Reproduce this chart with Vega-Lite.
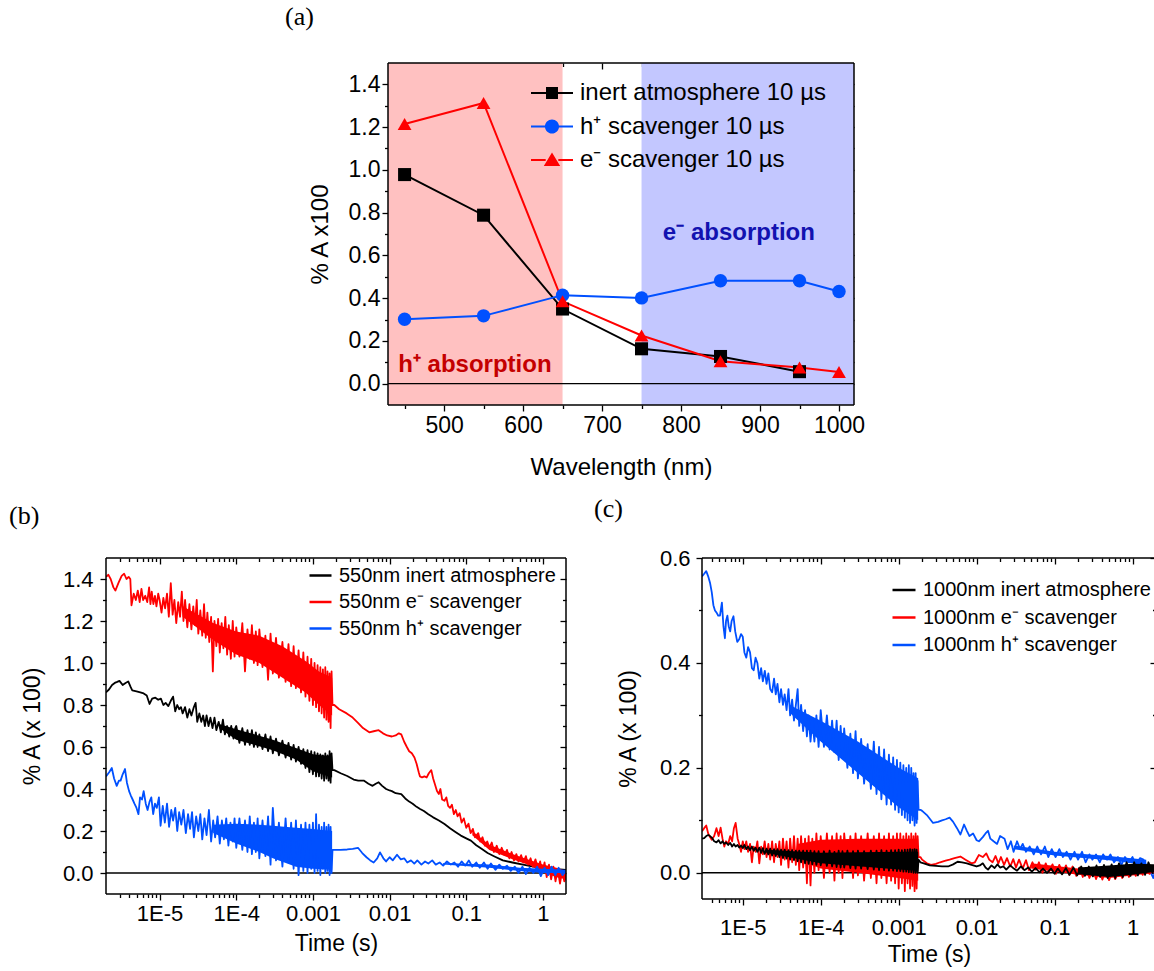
{
"$schema": "https://vega.github.io/schema/vega-lite/v6.json",
"padding": {"left": 9, "top": 4, "right": 5, "bottom": 5},
"config": {
  "view": {"stroke": null},
  "font": "Liberation Sans",
  "axis": {"domain": false, "tickColor": "black", "tickWidth": 1.3, "labelColor": "black", "titleColor": "black", "grid": false, "labelFont": "Liberation Sans", "titleFont": "Liberation Sans", "titleFontWeight": "normal", "labelFlush": false, "labelOverlap": false, "zindex": 1},
  "legend": {"labelFont": "Liberation Sans", "labelColor": "black", "padding": 0},
  "title": {"font": "Liberation Serif", "fontWeight": "normal", "color": "black", "fontSize": 26, "anchor": "start", "frame": "group", "baseline": "alphabetic"}
},
"datasets": {
  "a": [
    {"s":"inert atmosphere 10 µs","wl":450,"v":0.978},{"s":"inert atmosphere 10 µs","wl":550,"v":0.788},{"s":"inert atmosphere 10 µs","wl":650,"v":0.349},{"s":"inert atmosphere 10 µs","wl":750,"v":0.163},{"s":"inert atmosphere 10 µs","wl":850,"v":0.127},{"s":"inert atmosphere 10 µs","wl":950,"v":0.056},
    {"s":"h⁺ scavenger 10 µs","wl":450,"v":0.301},{"s":"h⁺ scavenger 10 µs","wl":550,"v":0.317},{"s":"h⁺ scavenger 10 µs","wl":650,"v":0.414},{"s":"h⁺ scavenger 10 µs","wl":750,"v":0.401},{"s":"h⁺ scavenger 10 µs","wl":850,"v":0.481},{"s":"h⁺ scavenger 10 µs","wl":950,"v":0.481},{"s":"h⁺ scavenger 10 µs","wl":1000,"v":0.431},
    {"s":"e⁻ scavenger 10 µs","wl":450,"v":1.215},{"s":"e⁻ scavenger 10 µs","wl":550,"v":1.313},{"s":"e⁻ scavenger 10 µs","wl":650,"v":0.385},{"s":"e⁻ scavenger 10 µs","wl":750,"v":0.225},{"s":"e⁻ scavenger 10 µs","wl":850,"v":0.105},{"s":"e⁻ scavenger 10 µs","wl":950,"v":0.075},{"s":"e⁻ scavenger 10 µs","wl":1000,"v":0.054}
  ],
  "bandH": [{"x1":429,"x2":650}],
  "bandE": [{"x1":750,"x2":1019}],
  "txtH": [{"x":442,"y":0.055,"label":"h⁺ absorption"}],
  "txtE": [{"x":777,"y":0.671,"label":"e⁻ absorption"}],
  "bKb": [{"t":6e-5,"hi":0.71,"lo":0.69},{"t":1e-4,"hi":0.685,"lo":0.635},{"t":3e-4,"hi":0.635,"lo":0.585},{"t":6e-4,"hi":0.595,"lo":0.54},{"t":1e-3,"hi":0.565,"lo":0.485},{"t":1.78e-3,"hi":0.555,"lo":0.455}],
  "bRb": [{"t":2e-5,"hi":1.27,"lo":1.22},{"t":5e-5,"hi":1.19,"lo":1.11},{"t":1e-4,"hi":1.15,"lo":1.04},{"t":2e-4,"hi":1.13,"lo":1.0},{"t":4e-4,"hi":1.08,"lo":0.93},{"t":8e-4,"hi":1.01,"lo":0.86},{"t":1.2e-3,"hi":0.96,"lo":0.80},{"t":1.78e-3,"hi":0.93,"lo":0.75}],
  "bRt": [{"t":0.12,"hi":0.2,"lo":0.18},{"t":0.2,"hi":0.135,"lo":0.11},{"t":0.4,"hi":0.09,"lo":0.065},{"t":0.7,"hi":0.06,"lo":0.035},{"t":1.0,"hi":0.04,"lo":0.005},{"t":1.5,"hi":0.025,"lo":-0.02},{"t":2.0,"hi":0.01,"lo":-0.03}],
  "bBb": [{"t":5e-5,"hi":0.23,"lo":0.19},{"t":1e-4,"hi":0.235,"lo":0.14},{"t":2e-4,"hi":0.23,"lo":0.10},{"t":3e-4,"hi":0.225,"lo":0.07},{"t":6e-4,"hi":0.215,"lo":0.03},{"t":1e-3,"hi":0.21,"lo":0.02},{"t":1.78e-3,"hi":0.20,"lo":0.015}],
  "bBt": [{"t":0.05,"hi":0.048,"lo":0.04},{"t":0.2,"hi":0.04,"lo":0.025},{"t":0.5,"hi":0.025,"lo":0.01},{"t":1.0,"hi":0.02,"lo":0.0},{"t":2.0,"hi":0.015,"lo":0.0}],
  "cBb": [{"t":4e-5,"hi":0.32,"lo":0.305},{"t":1e-4,"hi":0.29,"lo":0.25},{"t":3e-4,"hi":0.25,"lo":0.19},{"t":1e-3,"hi":0.20,"lo":0.125},{"t":1.78e-3,"hi":0.18,"lo":0.10}],
  "cBt": [{"t":0.03,"hi":0.052,"lo":0.045},{"t":0.1,"hi":0.04,"lo":0.033},{"t":0.5,"hi":0.032,"lo":0.024},{"t":1.5,"hi":0.025,"lo":0.015}],
  "cRb": [{"t":5e-5,"hi":0.055,"lo":0.025},{"t":1e-4,"hi":0.063,"lo":0.008},{"t":3e-4,"hi":0.065,"lo":0.0},{"t":1e-3,"hi":0.065,"lo":-0.01},{"t":1.78e-3,"hi":0.065,"lo":-0.015}],
  "cRt": [{"t":0.05,"hi":0.018,"lo":0.008},{"t":0.2,"hi":0.008,"lo":-0.004},{"t":0.5,"hi":0.0,"lo":-0.01},{"t":1.0,"hi":0.005,"lo":-0.005},{"t":2.0,"hi":0.01,"lo":0.0}],
  "cKb": [{"t":2e-5,"hi":0.044,"lo":0.038},{"t":1e-4,"hi":0.038,"lo":0.018},{"t":1e-3,"hi":0.04,"lo":0.006},{"t":1.78e-3,"hi":0.04,"lo":0.004}],
  "cKt": [{"t":0.2,"hi":0.01,"lo":-0.003},{"t":0.5,"hi":0.014,"lo":-0.008},{"t":1.0,"hi":0.017,"lo":-0.004},{"t":2.0,"hi":0.016,"lo":0.002}],
  "bK": [
    {"t":2.0e-6,"v":0.86},{"t":2.2e-6,"v":0.875},{"t":2.4e-6,"v":0.895},{"t":2.6e-6,"v":0.905},{"t":2.8e-6,"v":0.91},{"t":3.0e-6,"v":0.915},{"t":3.3e-6,"v":0.895},{"t":3.6e-6,"v":0.905},{"t":3.9e-6,"v":0.912},{"t":4.2e-6,"v":0.885},{"t":4.4e-6,"v":0.87},{"t":5.0e-6,"v":0.865},{"t":5.6e-6,"v":0.86},{"t":6.2e-6,"v":0.855},{"t":6.8e-6,"v":0.845},{"t":7.4e-6,"v":0.805},{"t":8.0e-6,"v":0.83},{"t":8.8e-6,"v":0.835},{"t":9.6e-6,"v":0.825},
    {"t":1.04e-5,"v":0.83},{"t":1.12e-5,"v":0.80},{"t":1.2e-5,"v":0.81},{"t":1.3e-5,"v":0.795},{"t":1.4e-5,"v":0.82},{"t":1.5e-5,"v":0.84},{"t":1.6e-5,"v":0.77},{"t":1.7e-5,"v":0.80},{"t":1.8e-5,"v":0.78},{"t":1.9e-5,"v":0.79},{"t":2.0e-5,"v":0.76},{"t":2.15e-5,"v":0.79},{"t":2.3e-5,"v":0.74},{"t":2.45e-5,"v":0.78},{"t":2.6e-5,"v":0.75},{"t":2.8e-5,"v":0.79},{"t":2.95e-5,"v":0.81},{"t":3.1e-5,"v":0.72},{"t":3.3e-5,"v":0.76},{"t":3.5e-5,"v":0.72},{"t":3.7e-5,"v":0.75},{"t":3.9e-5,"v":0.70},{"t":4.1e-5,"v":0.75},{"t":4.35e-5,"v":0.70},{"t":4.6e-5,"v":0.74},{"t":4.9e-5,"v":0.69},{"t":5.2e-5,"v":0.74},{"t":5.5e-5,"v":0.68},{"t":5.9e-5,"v":0.72},{"t":6.3e-5,"v":0.67},{"t":6.7e-5,"v":0.73},{"t":7.1e-5,"v":0.66},{"t":7.6e-5,"v":0.70},{"t":8.1e-5,"v":0.65},{"t":8.6e-5,"v":0.70},{"t":9.2e-5,"v":0.64},{"t":9.7e-5,"v":0.69},
    {"t":1.0e-4,"v":0.70},{"t":1.1e-4,"v":0.62},{"t":1.2e-4,"v":0.69},{"t":1.3e-4,"v":0.61},{"t":1.4e-4,"v":0.68},{"t":1.5e-4,"v":0.61},{"t":1.6e-4,"v":0.68},{"t":1.7e-4,"v":0.60},{"t":1.8e-4,"v":0.67},{"t":1.9e-4,"v":0.60},{"t":2.0e-4,"v":0.66},{"t":2.2e-4,"v":0.59},{"t":2.4e-4,"v":0.66},{"t":2.6e-4,"v":0.58},{"t":2.8e-4,"v":0.65},{"t":3.0e-4,"v":0.57},{"t":3.3e-4,"v":0.64},{"t":3.6e-4,"v":0.56},{"t":4.0e-4,"v":0.63},{"t":4.4e-4,"v":0.55},{"t":4.8e-4,"v":0.62},{"t":5.2e-4,"v":0.54},{"t":5.6e-4,"v":0.61},{"t":6.0e-4,"v":0.53},{"t":6.5e-4,"v":0.60},{"t":7.0e-4,"v":0.52},{"t":7.5e-4,"v":0.59},{"t":8.0e-4,"v":0.50},{"t":8.5e-4,"v":0.585},{"t":9.0e-4,"v":0.48},{"t":9.5e-4,"v":0.58},{"t":1.0e-3,"v":0.47},{"t":1.05e-3,"v":0.575},{"t":1.1e-3,"v":0.46},{"t":1.15e-3,"v":0.57},{"t":1.2e-3,"v":0.46},{"t":1.25e-3,"v":0.565},{"t":1.3e-3,"v":0.45},{"t":1.35e-3,"v":0.56},{"t":1.4e-3,"v":0.44},{"t":1.45e-3,"v":0.57},{"t":1.5e-3,"v":0.45},{"t":1.55e-3,"v":0.56},{"t":1.6e-3,"v":0.44},{"t":1.65e-3,"v":0.58},{"t":1.7e-3,"v":0.43},{"t":1.75e-3,"v":0.57},{"t":1.8e-3,"v":0.49},
    {"t":1.9e-3,"v":0.49},{"t":2.3e-3,"v":0.475},{"t":2.8e-3,"v":0.462},{"t":3.4e-3,"v":0.445},{"t":3.9e-3,"v":0.44},{"t":4.6e-3,"v":0.44},{"t":5.3e-3,"v":0.425},{"t":6.0e-3,"v":0.415},{"t":6.6e-3,"v":0.425},{"t":7.2e-3,"v":0.432},{"t":8.0e-3,"v":0.415},{"t":9.0e-3,"v":0.40},{"t":1.0e-2,"v":0.393},{"t":1.07e-2,"v":0.39},{"t":1.2e-2,"v":0.38},{"t":1.42e-2,"v":0.376},{"t":1.6e-2,"v":0.355},{"t":1.8e-2,"v":0.34},{"t":2.0e-2,"v":0.33},{"t":2.25e-2,"v":0.315},{"t":2.5e-2,"v":0.305},{"t":2.8e-2,"v":0.295},{"t":3.2e-2,"v":0.28},{"t":3.7e-2,"v":0.265},{"t":4.4e-2,"v":0.25},{"t":5.2e-2,"v":0.233},{"t":6.2e-2,"v":0.212},{"t":7.3e-2,"v":0.194},{"t":8.5e-2,"v":0.178},{"t":0.1,"v":0.165},{"t":0.115,"v":0.154},{"t":0.135,"v":0.132},{"t":0.16,"v":0.114},{"t":0.19,"v":0.095},{"t":0.23,"v":0.08},{"t":0.3,"v":0.06},{"t":0.4,"v":0.05},{"t":0.55,"v":0.04},{"t":0.75,"v":0.03},{"t":1.0,"v":0.025},{"t":1.4,"v":0.02},{"t":2.0,"v":0.015}
  ],
  "bR": [
    {"t":2.0e-6,"v":1.41},{"t":2.15e-6,"v":1.42},{"t":2.3e-6,"v":1.40},{"t":2.5e-6,"v":1.36},{"t":2.65e-6,"v":1.345},{"t":2.9e-6,"v":1.38},{"t":3.2e-6,"v":1.415},{"t":3.45e-6,"v":1.425},{"t":3.7e-6,"v":1.40},{"t":3.95e-6,"v":1.41},{"t":4.15e-6,"v":1.40},{"t":4.3e-6,"v":1.275},{"t":4.6e-6,"v":1.33},{"t":4.9e-6,"v":1.30},{"t":5.2e-6,"v":1.345},{"t":5.5e-6,"v":1.29},{"t":5.8e-6,"v":1.353},{"t":6.1e-6,"v":1.30},{"t":6.5e-6,"v":1.32},{"t":6.9e-6,"v":1.29},{"t":7.3e-6,"v":1.36},{"t":7.6e-6,"v":1.28},{"t":7.9e-6,"v":1.34},{"t":8.3e-6,"v":1.28},{"t":8.7e-6,"v":1.32},{"t":9.1e-6,"v":1.27},{"t":9.6e-6,"v":1.33},
    {"t":1.0e-5,"v":1.30},{"t":1.06e-5,"v":1.24},{"t":1.12e-5,"v":1.31},{"t":1.18e-5,"v":1.26},{"t":1.25e-5,"v":1.33},{"t":1.32e-5,"v":1.22},{"t":1.4e-5,"v":1.38},{"t":1.48e-5,"v":1.23},{"t":1.56e-5,"v":1.30},{"t":1.65e-5,"v":1.19},{"t":1.75e-5,"v":1.29},{"t":1.85e-5,"v":1.22},{"t":1.95e-5,"v":1.34},{"t":2.05e-5,"v":1.20},{"t":2.15e-5,"v":1.30},{"t":2.3e-5,"v":1.17},{"t":2.45e-5,"v":1.28},{"t":2.6e-5,"v":1.16},{"t":2.75e-5,"v":1.27},{"t":2.9e-5,"v":1.18},{"t":3.05e-5,"v":1.30},{"t":3.2e-5,"v":1.14},{"t":3.4e-5,"v":1.25},{"t":3.6e-5,"v":1.13},{"t":3.8e-5,"v":1.28},{"t":4.0e-5,"v":1.12},{"t":4.2e-5,"v":1.24},{"t":4.45e-5,"v":1.10},{"t":4.7e-5,"v":1.22},{"t":4.95e-5,"v":0.96},{"t":5.2e-5,"v":1.20},{"t":5.5e-5,"v":1.08},{"t":5.8e-5,"v":1.21},{"t":6.1e-5,"v":1.05},{"t":6.45e-5,"v":1.19},{"t":6.8e-5,"v":1.07},{"t":7.2e-5,"v":1.22},{"t":7.6e-5,"v":1.04},{"t":8.0e-5,"v":1.18},{"t":8.5e-5,"v":1.02},{"t":9.0e-5,"v":1.20},{"t":9.5e-5,"v":1.03},
    {"t":1.0e-4,"v":1.17},{"t":1.1e-4,"v":1.03},{"t":1.2e-4,"v":1.19},{"t":1.3e-4,"v":0.96},{"t":1.4e-4,"v":1.16},{"t":1.5e-4,"v":1.02},{"t":1.6e-4,"v":1.18},{"t":1.7e-4,"v":1.00},{"t":1.8e-4,"v":1.15},{"t":1.9e-4,"v":0.99},{"t":2.0e-4,"v":1.16},{"t":2.2e-4,"v":0.98},{"t":2.4e-4,"v":1.13},{"t":2.6e-4,"v":0.92},{"t":2.8e-4,"v":1.14},{"t":3.0e-4,"v":0.95},{"t":3.3e-4,"v":1.12},{"t":3.6e-4,"v":0.93},{"t":4.0e-4,"v":1.10},{"t":4.4e-4,"v":0.91},{"t":4.8e-4,"v":1.09},{"t":5.2e-4,"v":0.89},{"t":5.6e-4,"v":1.08},{"t":6.0e-4,"v":0.88},{"t":6.5e-4,"v":1.06},{"t":7.0e-4,"v":0.86},{"t":7.5e-4,"v":1.05},{"t":8.0e-4,"v":0.84},{"t":8.5e-4,"v":1.03},{"t":9.0e-4,"v":0.82},{"t":9.5e-4,"v":1.02},{"t":1.0e-3,"v":0.80},{"t":1.05e-3,"v":1.00},{"t":1.1e-3,"v":0.79},{"t":1.15e-3,"v":0.99},{"t":1.2e-3,"v":0.77},{"t":1.25e-3,"v":0.98},{"t":1.3e-3,"v":0.76},{"t":1.35e-3,"v":0.97},{"t":1.4e-3,"v":0.74},{"t":1.45e-3,"v":0.98},{"t":1.5e-3,"v":0.73},{"t":1.55e-3,"v":0.96},{"t":1.6e-3,"v":0.72},{"t":1.65e-3,"v":0.95},{"t":1.7e-3,"v":0.69},{"t":1.75e-3,"v":0.96},{"t":1.8e-3,"v":0.80},
    {"t":1.9e-3,"v":0.80},{"t":2.2e-3,"v":0.78},{"t":2.76e-3,"v":0.76},{"t":3.3e-3,"v":0.74},{"t":3.87e-3,"v":0.715},{"t":4.5e-3,"v":0.69},{"t":5.43e-3,"v":0.67},{"t":6.2e-3,"v":0.675},{"t":7.2e-3,"v":0.68},{"t":8.2e-3,"v":0.665},{"t":9.3e-3,"v":0.655},{"t":1.07e-2,"v":0.65},{"t":1.2e-2,"v":0.655},{"t":1.32e-2,"v":0.665},{"t":1.42e-2,"v":0.66},{"t":1.55e-2,"v":0.625},{"t":1.68e-2,"v":0.60},{"t":1.8e-2,"v":0.58},{"t":1.95e-2,"v":0.57},{"t":2.11e-2,"v":0.55},{"t":2.25e-2,"v":0.52},{"t":2.4e-2,"v":0.48},{"t":2.49e-2,"v":0.46},{"t":2.65e-2,"v":0.455},{"t":2.85e-2,"v":0.46},{"t":3.05e-2,"v":0.455},{"t":3.25e-2,"v":0.475},{"t":3.5e-2,"v":0.49},{"t":3.7e-2,"v":0.45},{"t":3.92e-2,"v":0.42},{"t":4.15e-2,"v":0.39},{"t":4.39e-2,"v":0.376},{"t":4.6e-2,"v":0.40},{"t":4.85e-2,"v":0.35},{"t":5.2e-2,"v":0.344},{"t":5.5e-2,"v":0.36},{"t":5.8e-2,"v":0.32},{"t":6.15e-2,"v":0.31},{"t":6.5e-2,"v":0.325},{"t":6.9e-2,"v":0.28},{"t":7.3e-2,"v":0.30},{"t":7.7e-2,"v":0.27},{"t":8.2e-2,"v":0.285},{"t":8.7e-2,"v":0.24},{"t":9.3e-2,"v":0.26},{"t":0.1,"v":0.215},{"t":0.107,"v":0.235},{"t":0.114,"v":0.19},{"t":0.122,"v":0.21},{"t":0.13,"v":0.17},{"t":0.1435,"v":0.19},{"t":0.152,"v":0.15},{"t":0.163,"v":0.17},{"t":0.175,"v":0.13},{"t":0.188,"v":0.15},{"t":0.2,"v":0.12},{"t":0.215,"v":0.145},{"t":0.23,"v":0.10},{"t":0.25,"v":0.13},{"t":0.27,"v":0.09},{"t":0.29,"v":0.12},{"t":0.316,"v":0.085},{"t":0.34,"v":0.11},{"t":0.365,"v":0.07},{"t":0.39,"v":0.10},{"t":0.42,"v":0.06},{"t":0.45,"v":0.09},{"t":0.48,"v":0.055},{"t":0.52,"v":0.085},{"t":0.556,"v":0.05},{"t":0.6,"v":0.08},{"t":0.64,"v":0.04},{"t":0.69,"v":0.07},{"t":0.74,"v":0.03},{"t":0.8,"v":0.065},{"t":0.86,"v":0.02},{"t":0.92,"v":0.055},{"t":0.98,"v":0.0},{"t":1.05,"v":0.05},{"t":1.12,"v":-0.02},{"t":1.2,"v":0.04},{"t":1.28,"v":-0.03},{"t":1.37,"v":0.03},{"t":1.46,"v":-0.04},{"t":1.56,"v":0.02},{"t":1.67,"v":-0.05},{"t":1.78,"v":0.01},{"t":1.9,"v":-0.04},{"t":2.0,"v":-0.02}
  ],
  "bB": [
    {"t":2.0e-6,"v":0.46},{"t":2.2e-6,"v":0.48},{"t":2.38e-6,"v":0.50},{"t":2.55e-6,"v":0.45},{"t":2.76e-6,"v":0.415},{"t":2.95e-6,"v":0.44},{"t":3.1e-6,"v":0.44},{"t":3.3e-6,"v":0.47},{"t":3.54e-6,"v":0.495},{"t":3.75e-6,"v":0.43},{"t":4.0e-6,"v":0.39},{"t":4.2e-6,"v":0.37},{"t":4.45e-6,"v":0.35},{"t":4.7e-6,"v":0.33},{"t":5.0e-6,"v":0.31},{"t":5.3e-6,"v":0.28},{"t":5.56e-6,"v":0.36},{"t":5.9e-6,"v":0.35},{"t":6.2e-6,"v":0.39},{"t":6.6e-6,"v":0.33},{"t":6.97e-6,"v":0.30},{"t":7.4e-6,"v":0.34},{"t":7.8e-6,"v":0.36},{"t":8.25e-6,"v":0.28},{"t":8.7e-6,"v":0.33},{"t":9.2e-6,"v":0.31},{"t":9.8e-6,"v":0.36},
    {"t":1.03e-5,"v":0.225},{"t":1.1e-5,"v":0.32},{"t":1.17e-5,"v":0.24},{"t":1.25e-5,"v":0.33},{"t":1.33e-5,"v":0.22},{"t":1.42e-5,"v":0.30},{"t":1.5e-5,"v":0.25},{"t":1.6e-5,"v":0.31},{"t":1.7e-5,"v":0.20},{"t":1.8e-5,"v":0.29},{"t":1.92e-5,"v":0.23},{"t":2.05e-5,"v":0.30},{"t":2.2e-5,"v":0.19},{"t":2.35e-5,"v":0.28},{"t":2.5e-5,"v":0.21},{"t":2.65e-5,"v":0.29},{"t":2.8e-5,"v":0.17},{"t":3.0e-5,"v":0.27},{"t":3.2e-5,"v":0.20},{"t":3.4e-5,"v":0.28},{"t":3.6e-5,"v":0.16},{"t":3.85e-5,"v":0.26},{"t":4.1e-5,"v":0.18},{"t":4.4e-5,"v":0.30},{"t":4.7e-5,"v":0.15},{"t":5.0e-5,"v":0.25},{"t":5.3e-5,"v":0.17},{"t":5.7e-5,"v":0.27},{"t":6.1e-5,"v":0.14},{"t":6.5e-5,"v":0.25},{"t":6.9e-5,"v":0.16},{"t":7.4e-5,"v":0.26},{"t":7.9e-5,"v":0.13},{"t":8.4e-5,"v":0.24},{"t":9.0e-5,"v":0.15},{"t":9.5e-5,"v":0.26},
    {"t":1.0e-4,"v":0.12},{"t":1.1e-4,"v":0.26},{"t":1.2e-4,"v":0.11},{"t":1.3e-4,"v":0.25},{"t":1.4e-4,"v":0.10},{"t":1.5e-4,"v":0.27},{"t":1.6e-4,"v":0.09},{"t":1.7e-4,"v":0.24},{"t":1.8e-4,"v":0.10},{"t":1.9e-4,"v":0.26},{"t":2.0e-4,"v":0.07},{"t":2.2e-4,"v":0.25},{"t":2.4e-4,"v":0.08},{"t":2.6e-4,"v":0.27},{"t":2.8e-4,"v":0.04},{"t":3.0e-4,"v":0.31},{"t":3.3e-4,"v":0.06},{"t":3.6e-4,"v":0.24},{"t":4.0e-4,"v":0.03},{"t":4.4e-4,"v":0.26},{"t":4.8e-4,"v":0.05},{"t":5.2e-4,"v":0.24},{"t":5.6e-4,"v":0.02},{"t":6.0e-4,"v":0.25},{"t":6.5e-4,"v":-0.01},{"t":7.0e-4,"v":0.23},{"t":7.5e-4,"v":0.01},{"t":8.0e-4,"v":0.24},{"t":8.5e-4,"v":0.00},{"t":9.0e-4,"v":0.23},{"t":9.5e-4,"v":0.02},{"t":1.0e-3,"v":0.24},{"t":1.05e-3,"v":0.00},{"t":1.1e-3,"v":0.28},{"t":1.15e-3,"v":0.01},{"t":1.2e-3,"v":0.23},{"t":1.25e-3,"v":-0.01},{"t":1.3e-3,"v":0.22},{"t":1.35e-3,"v":0.02},{"t":1.4e-3,"v":0.24},{"t":1.45e-3,"v":0.00},{"t":1.5e-3,"v":0.22},{"t":1.55e-3,"v":0.01},{"t":1.6e-3,"v":0.23},{"t":1.65e-3,"v":-0.01},{"t":1.7e-3,"v":0.22},{"t":1.75e-3,"v":0.00},{"t":1.8e-3,"v":0.11},
    {"t":1.9e-3,"v":0.11},{"t":2.3e-3,"v":0.11},{"t":2.8e-3,"v":0.112},{"t":3.3e-3,"v":0.115},{"t":3.87e-3,"v":0.12},{"t":4.4e-3,"v":0.095},{"t":5.0e-3,"v":0.075},{"t":5.6e-3,"v":0.06},{"t":6.2e-3,"v":0.05},{"t":6.9e-3,"v":0.07},{"t":7.5e-3,"v":0.098},{"t":8.3e-3,"v":0.07},{"t":9.0e-3,"v":0.055},{"t":1.0e-2,"v":0.075},{"t":1.1e-2,"v":0.06},{"t":1.25e-2,"v":0.087},{"t":1.4e-2,"v":0.065},{"t":1.55e-2,"v":0.07},{"t":1.7e-2,"v":0.05},{"t":1.9e-2,"v":0.06},{"t":2.1e-2,"v":0.045},{"t":2.3e-2,"v":0.06},{"t":2.6e-2,"v":0.04},{"t":2.9e-2,"v":0.055},{"t":3.2e-2,"v":0.045},{"t":3.6e-2,"v":0.06},{"t":4.0e-2,"v":0.04},{"t":4.5e-2,"v":0.05},{"t":5.0e-2,"v":0.035},{"t":5.6e-2,"v":0.055},{"t":6.3e-2,"v":0.04},{"t":7.0e-2,"v":0.05},{"t":7.8e-2,"v":0.03},{"t":8.7e-2,"v":0.055},{"t":9.7e-2,"v":0.035},{"t":0.108,"v":0.06},{"t":0.12,"v":0.03},{"t":0.135,"v":0.05},{"t":0.15,"v":0.025},{"t":0.17,"v":0.05},{"t":0.19,"v":0.02},{"t":0.21,"v":0.045},{"t":0.24,"v":0.015},{"t":0.27,"v":0.04},{"t":0.3,"v":0.02},{"t":0.34,"v":0.035},{"t":0.38,"v":0.01},{"t":0.43,"v":0.03},{"t":0.48,"v":0.0},{"t":0.54,"v":0.03},{"t":0.6,"v":-0.005},{"t":0.67,"v":0.025},{"t":0.75,"v":0.0},{"t":0.84,"v":0.03},{"t":0.94,"v":-0.015},{"t":1.05,"v":0.025},{"t":1.17,"v":-0.01},{"t":1.3,"v":0.03},{"t":1.45,"v":-0.01},{"t":1.6,"v":0.025},{"t":1.8,"v":-0.01},{"t":2.0,"v":0.01}
  ],
  "cB": [
    {"t":3.0e-6,"v":0.565},{"t":3.2e-6,"v":0.57},{"t":3.4e-6,"v":0.575},{"t":3.6e-6,"v":0.565},{"t":3.8e-6,"v":0.553},{"t":4.0e-6,"v":0.535},{"t":4.2e-6,"v":0.51},{"t":4.4e-6,"v":0.50},{"t":4.65e-6,"v":0.495},{"t":4.85e-6,"v":0.49},{"t":5.1e-6,"v":0.49},{"t":5.4e-6,"v":0.515},{"t":5.65e-6,"v":0.47},{"t":5.9e-6,"v":0.447},{"t":6.1e-6,"v":0.48},{"t":6.35e-6,"v":0.49},{"t":6.6e-6,"v":0.47},{"t":6.9e-6,"v":0.46},{"t":7.2e-6,"v":0.48},{"t":7.6e-6,"v":0.489},{"t":8.0e-6,"v":0.46},{"t":8.5e-6,"v":0.44},{"t":9.0e-6,"v":0.445},{"t":9.5e-6,"v":0.455},
    {"t":1.0e-5,"v":0.45},{"t":1.05e-5,"v":0.42},{"t":1.11e-5,"v":0.41},{"t":1.17e-5,"v":0.43},{"t":1.24e-5,"v":0.42},{"t":1.31e-5,"v":0.39},{"t":1.38e-5,"v":0.386},{"t":1.46e-5,"v":0.41},{"t":1.54e-5,"v":0.40},{"t":1.63e-5,"v":0.37},{"t":1.72e-5,"v":0.39},{"t":1.81e-5,"v":0.365},{"t":1.92e-5,"v":0.385},{"t":2.02e-5,"v":0.36},{"t":2.13e-5,"v":0.38},{"t":2.25e-5,"v":0.35},{"t":2.38e-5,"v":0.344},{"t":2.52e-5,"v":0.37},{"t":2.65e-5,"v":0.34},{"t":2.79e-5,"v":0.36},{"t":2.95e-5,"v":0.325},{"t":3.1e-5,"v":0.35},{"t":3.28e-5,"v":0.32},{"t":3.45e-5,"v":0.34},{"t":3.65e-5,"v":0.31},{"t":3.86e-5,"v":0.35},{"t":4.05e-5,"v":0.30},{"t":4.3e-5,"v":0.33},{"t":4.54e-5,"v":0.29},{"t":4.8e-5,"v":0.32},{"t":5.06e-5,"v":0.35},{"t":5.3e-5,"v":0.28},{"t":5.6e-5,"v":0.32},{"t":5.95e-5,"v":0.27},{"t":6.3e-5,"v":0.31},{"t":6.65e-5,"v":0.26},{"t":7.0e-5,"v":0.30},{"t":7.4e-5,"v":0.25},{"t":7.8e-5,"v":0.29},{"t":8.3e-5,"v":0.25},{"t":8.8e-5,"v":0.30},{"t":9.4e-5,"v":0.24},
    {"t":1.0e-4,"v":0.31},{"t":1.1e-4,"v":0.24},{"t":1.2e-4,"v":0.30},{"t":1.3e-4,"v":0.235},{"t":1.4e-4,"v":0.29},{"t":1.5e-4,"v":0.23},{"t":1.6e-4,"v":0.29},{"t":1.7e-4,"v":0.215},{"t":1.8e-4,"v":0.28},{"t":1.9e-4,"v":0.22},{"t":2.0e-4,"v":0.275},{"t":2.2e-4,"v":0.20},{"t":2.4e-4,"v":0.265},{"t":2.6e-4,"v":0.19},{"t":2.8e-4,"v":0.27},{"t":3.0e-4,"v":0.18},{"t":3.3e-4,"v":0.255},{"t":3.6e-4,"v":0.17},{"t":4.0e-4,"v":0.245},{"t":4.4e-4,"v":0.16},{"t":4.8e-4,"v":0.25},{"t":5.2e-4,"v":0.15},{"t":5.6e-4,"v":0.24},{"t":6.0e-4,"v":0.14},{"t":6.5e-4,"v":0.235},{"t":7.0e-4,"v":0.13},{"t":7.5e-4,"v":0.225},{"t":8.0e-4,"v":0.13},{"t":8.5e-4,"v":0.22},{"t":9.0e-4,"v":0.12},{"t":9.5e-4,"v":0.215},{"t":1.0e-3,"v":0.115},{"t":1.05e-3,"v":0.21},{"t":1.1e-3,"v":0.11},{"t":1.15e-3,"v":0.205},{"t":1.2e-3,"v":0.105},{"t":1.25e-3,"v":0.20},{"t":1.3e-3,"v":0.10},{"t":1.35e-3,"v":0.205},{"t":1.4e-3,"v":0.095},{"t":1.45e-3,"v":0.20},{"t":1.5e-3,"v":0.10},{"t":1.55e-3,"v":0.19},{"t":1.6e-3,"v":0.09},{"t":1.65e-3,"v":0.19},{"t":1.7e-3,"v":0.095},{"t":1.75e-3,"v":0.175},{"t":1.8e-3,"v":0.12},
    {"t":1.9e-3,"v":0.12},{"t":2.0e-3,"v":0.118},{"t":2.3e-3,"v":0.11},{"t":2.76e-3,"v":0.095},{"t":3.2e-3,"v":0.097},{"t":3.6e-3,"v":0.10},{"t":4.0e-3,"v":0.102},{"t":4.5e-3,"v":0.105},{"t":5.0e-3,"v":0.097},{"t":5.6e-3,"v":0.085},{"t":6.2e-3,"v":0.073},{"t":6.9e-3,"v":0.092},{"t":7.5e-3,"v":0.08},{"t":8.1e-3,"v":0.07},{"t":9.0e-3,"v":0.075},{"t":1.0e-2,"v":0.062},{"t":1.07e-2,"v":0.06},{"t":1.2e-2,"v":0.068},{"t":1.3e-2,"v":0.075},{"t":1.4e-2,"v":0.08},{"t":1.5e-2,"v":0.065},{"t":1.65e-2,"v":0.06},{"t":1.83e-2,"v":0.055},{"t":2.0e-2,"v":0.07},{"t":2.28e-2,"v":0.065},{"t":2.5e-2,"v":0.045},{"t":2.75e-2,"v":0.06},{"t":2.98e-2,"v":0.04},{"t":3.3e-2,"v":0.06},{"t":3.6e-2,"v":0.045},{"t":3.9e-2,"v":0.055},{"t":4.3e-2,"v":0.04},{"t":4.8e-2,"v":0.05},{"t":5.4e-2,"v":0.035},{"t":6.0e-2,"v":0.05},{"t":6.7e-2,"v":0.035},{"t":7.5e-2,"v":0.05},{"t":8.3e-2,"v":0.03},{"t":9.2e-2,"v":0.045},{"t":0.103,"v":0.03},{"t":0.115,"v":0.045},{"t":0.128,"v":0.03},{"t":0.143,"v":0.04},{"t":0.16,"v":0.025},{"t":0.18,"v":0.04},{"t":0.2,"v":0.025},{"t":0.225,"v":0.04},{"t":0.25,"v":0.02},{"t":0.28,"v":0.035},{"t":0.305,"v":0.025},{"t":0.34,"v":0.035},{"t":0.38,"v":0.02},{"t":0.42,"v":0.035},{"t":0.47,"v":0.025},{"t":0.52,"v":0.035},{"t":0.58,"v":0.02},{"t":0.65,"v":0.03},{"t":0.72,"v":0.015},{"t":0.8,"v":0.03},{"t":0.9,"v":0.02},{"t":1.0,"v":0.03},{"t":1.1,"v":0.015},{"t":1.25,"v":0.028},{"t":1.38,"v":0.025},{"t":1.55,"v":0.01},{"t":1.72,"v":0.0},{"t":1.85,"v":-0.01},{"t":2.0,"v":0.01}
  ],
  "cR": [
    {"t":3.0e-6,"v":0.079},{"t":3.2e-6,"v":0.085},{"t":3.4e-6,"v":0.09},{"t":3.6e-6,"v":0.075},{"t":3.8e-6,"v":0.068},{"t":4.0e-6,"v":0.063},{"t":4.3e-6,"v":0.07},{"t":4.6e-6,"v":0.085},{"t":4.9e-6,"v":0.07},{"t":5.2e-6,"v":0.086},{"t":5.5e-6,"v":0.065},{"t":5.8e-6,"v":0.05},{"t":6.1e-6,"v":0.06},{"t":6.5e-6,"v":0.055},{"t":6.9e-6,"v":0.07},{"t":7.3e-6,"v":0.06},{"t":7.7e-6,"v":0.085},{"t":8.1e-6,"v":0.095},{"t":8.6e-6,"v":0.065},{"t":9.0e-6,"v":0.055},{"t":9.5e-6,"v":0.04},
    {"t":1.0e-5,"v":0.06},{"t":1.05e-5,"v":0.045},{"t":1.11e-5,"v":0.06},{"t":1.17e-5,"v":0.04},{"t":1.24e-5,"v":0.055},{"t":1.31e-5,"v":0.02},{"t":1.38e-5,"v":0.05},{"t":1.46e-5,"v":0.04},{"t":1.54e-5,"v":0.06},{"t":1.63e-5,"v":0.018},{"t":1.72e-5,"v":0.05},{"t":1.81e-5,"v":0.035},{"t":1.91e-5,"v":0.06},{"t":2.02e-5,"v":0.03},{"t":2.13e-5,"v":0.055},{"t":2.25e-5,"v":0.025},{"t":2.38e-5,"v":0.06},{"t":2.52e-5,"v":0.02},{"t":2.65e-5,"v":0.055},{"t":2.79e-5,"v":0.03},{"t":2.95e-5,"v":0.06},{"t":3.1e-5,"v":0.015},{"t":3.28e-5,"v":0.065},{"t":3.45e-5,"v":0.025},{"t":3.65e-5,"v":0.06},{"t":3.86e-5,"v":0.01},{"t":4.05e-5,"v":0.065},{"t":4.3e-5,"v":0.02},{"t":4.54e-5,"v":0.07},{"t":4.8e-5,"v":0.015},{"t":5.06e-5,"v":0.065},{"t":5.3e-5,"v":0.005},{"t":5.6e-5,"v":0.07},{"t":5.95e-5,"v":0.01},{"t":6.3e-5,"v":0.065},{"t":6.65e-5,"v":-0.02},{"t":7.0e-5,"v":0.07},{"t":7.4e-5,"v":-0.024},{"t":7.8e-5,"v":0.065},{"t":8.3e-5,"v":0.0},{"t":8.8e-5,"v":0.075},{"t":9.4e-5,"v":0.005},
    {"t":1.0e-4,"v":0.07},{"t":1.1e-4,"v":-0.01},{"t":1.2e-4,"v":0.075},{"t":1.3e-4,"v":0.0},{"t":1.4e-4,"v":0.07},{"t":1.5e-4,"v":-0.015},{"t":1.6e-4,"v":0.075},{"t":1.7e-4,"v":0.0},{"t":1.8e-4,"v":0.07},{"t":1.9e-4,"v":-0.01},{"t":2.0e-4,"v":0.075},{"t":2.2e-4,"v":0.005},{"t":2.4e-4,"v":0.07},{"t":2.6e-4,"v":-0.01},{"t":2.8e-4,"v":0.075},{"t":3.0e-4,"v":-0.005},{"t":3.3e-4,"v":0.07},{"t":3.6e-4,"v":-0.015},{"t":4.0e-4,"v":0.075},{"t":4.4e-4,"v":-0.01},{"t":4.8e-4,"v":0.07},{"t":5.2e-4,"v":-0.02},{"t":5.6e-4,"v":0.075},{"t":6.0e-4,"v":-0.01},{"t":6.5e-4,"v":0.07},{"t":7.0e-4,"v":-0.02},{"t":7.5e-4,"v":0.075},{"t":8.0e-4,"v":-0.015},{"t":8.5e-4,"v":0.07},{"t":9.0e-4,"v":-0.02},{"t":9.5e-4,"v":0.075},{"t":1.0e-3,"v":-0.03},{"t":1.05e-3,"v":0.075},{"t":1.1e-3,"v":-0.02},{"t":1.15e-3,"v":0.07},{"t":1.2e-3,"v":-0.035},{"t":1.25e-3,"v":0.075},{"t":1.3e-3,"v":-0.02},{"t":1.35e-3,"v":0.07},{"t":1.4e-3,"v":-0.03},{"t":1.45e-3,"v":0.075},{"t":1.5e-3,"v":-0.025},{"t":1.55e-3,"v":0.07},{"t":1.6e-3,"v":-0.035},{"t":1.65e-3,"v":0.075},{"t":1.7e-3,"v":-0.03},{"t":1.75e-3,"v":0.07},{"t":1.8e-3,"v":0.03},
    {"t":1.9e-3,"v":0.03},{"t":2.0e-3,"v":0.025},{"t":2.3e-3,"v":0.018},{"t":2.6e-3,"v":0.015},{"t":3.0e-3,"v":0.017},{"t":3.4e-3,"v":0.02},{"t":4.0e-3,"v":0.023},{"t":4.5e-3,"v":0.025},{"t":5.2e-3,"v":0.028},{"t":6.2e-3,"v":0.031},{"t":7.2e-3,"v":0.025},{"t":8.6e-3,"v":0.018},{"t":9.5e-3,"v":0.02},{"t":1.07e-2,"v":0.034},{"t":1.2e-2,"v":0.03},{"t":1.33e-2,"v":0.037},{"t":1.45e-2,"v":0.025},{"t":1.6e-2,"v":0.02},{"t":1.75e-2,"v":0.032},{"t":1.9e-2,"v":0.018},{"t":2.05e-2,"v":0.03},{"t":2.25e-2,"v":0.015},{"t":2.45e-2,"v":0.028},{"t":2.7e-2,"v":0.012},{"t":2.95e-2,"v":0.026},{"t":3.2e-2,"v":0.01},{"t":3.5e-2,"v":0.025},{"t":3.9e-2,"v":0.008},{"t":4.3e-2,"v":0.024},{"t":4.7e-2,"v":0.005},{"t":5.2e-2,"v":0.02},{"t":5.7e-2,"v":0.006},{"t":6.3e-2,"v":0.02},{"t":7.0e-2,"v":0.0},{"t":7.7e-2,"v":0.018},{"t":8.5e-2,"v":0.002},{"t":9.4e-2,"v":0.016},{"t":0.104,"v":-0.002},{"t":0.115,"v":0.015},{"t":0.127,"v":0.0},{"t":0.14,"v":0.014},{"t":0.155,"v":-0.004},{"t":0.17,"v":0.012},{"t":0.19,"v":-0.006},{"t":0.21,"v":0.01},{"t":0.23,"v":-0.008},{"t":0.255,"v":0.008},{"t":0.28,"v":-0.01},{"t":0.31,"v":0.007},{"t":0.34,"v":-0.012},{"t":0.375,"v":0.005},{"t":0.41,"v":-0.013},{"t":0.45,"v":0.004},{"t":0.5,"v":-0.014},{"t":0.55,"v":0.003},{"t":0.6,"v":-0.012},{"t":0.67,"v":0.004},{"t":0.74,"v":-0.01},{"t":0.82,"v":0.006},{"t":0.9,"v":-0.008},{"t":1.0,"v":0.008},{"t":1.1,"v":-0.006},{"t":1.22,"v":0.01},{"t":1.35,"v":-0.004},{"t":1.5,"v":0.012},{"t":1.65,"v":-0.002},{"t":1.8,"v":0.012},{"t":2.0,"v":0.005}
  ],
  "cK": [
    {"t":3.0e-6,"v":0.065},{"t":3.2e-6,"v":0.066},{"t":3.4e-6,"v":0.07},{"t":3.6e-6,"v":0.072},{"t":3.8e-6,"v":0.07},{"t":4.0e-6,"v":0.067},{"t":4.3e-6,"v":0.06},{"t":4.6e-6,"v":0.058},{"t":4.9e-6,"v":0.062},{"t":5.2e-6,"v":0.056},{"t":5.5e-6,"v":0.06},{"t":5.8e-6,"v":0.055},{"t":6.1e-6,"v":0.058},{"t":6.5e-6,"v":0.053},{"t":6.9e-6,"v":0.057},{"t":7.3e-6,"v":0.05},{"t":7.7e-6,"v":0.055},{"t":8.1e-6,"v":0.05},{"t":8.6e-6,"v":0.053},{"t":9.0e-6,"v":0.048},{"t":9.5e-6,"v":0.052},
    {"t":1.0e-5,"v":0.047},{"t":1.05e-5,"v":0.053},{"t":1.11e-5,"v":0.045},{"t":1.17e-5,"v":0.05},{"t":1.24e-5,"v":0.043},{"t":1.31e-5,"v":0.05},{"t":1.38e-5,"v":0.042},{"t":1.46e-5,"v":0.048},{"t":1.54e-5,"v":0.04},{"t":1.63e-5,"v":0.048},{"t":1.72e-5,"v":0.038},{"t":1.81e-5,"v":0.047},{"t":1.91e-5,"v":0.036},{"t":2.02e-5,"v":0.046},{"t":2.13e-5,"v":0.035},{"t":2.25e-5,"v":0.046},{"t":2.38e-5,"v":0.033},{"t":2.52e-5,"v":0.045},{"t":2.65e-5,"v":0.032},{"t":2.79e-5,"v":0.045},{"t":2.95e-5,"v":0.03},{"t":3.1e-5,"v":0.044},{"t":3.28e-5,"v":0.028},{"t":3.45e-5,"v":0.044},{"t":3.65e-5,"v":0.027},{"t":3.86e-5,"v":0.043},{"t":4.05e-5,"v":0.025},{"t":4.3e-5,"v":0.043},{"t":4.54e-5,"v":0.024},{"t":4.8e-5,"v":0.042},{"t":5.06e-5,"v":0.022},{"t":5.3e-5,"v":0.042},{"t":5.6e-5,"v":0.02},{"t":5.95e-5,"v":0.042},{"t":6.3e-5,"v":0.018},{"t":6.65e-5,"v":0.042},{"t":7.0e-5,"v":0.017},{"t":7.4e-5,"v":0.042},{"t":7.8e-5,"v":0.016},{"t":8.3e-5,"v":0.041},{"t":8.8e-5,"v":0.015},{"t":9.4e-5,"v":0.041},
    {"t":1.0e-4,"v":0.014},{"t":1.1e-4,"v":0.041},{"t":1.2e-4,"v":0.013},{"t":1.3e-4,"v":0.042},{"t":1.4e-4,"v":0.012},{"t":1.5e-4,"v":0.04},{"t":1.6e-4,"v":0.011},{"t":1.7e-4,"v":0.042},{"t":1.8e-4,"v":0.01},{"t":1.9e-4,"v":0.041},{"t":2.0e-4,"v":0.01},{"t":2.2e-4,"v":0.042},{"t":2.4e-4,"v":0.009},{"t":2.6e-4,"v":0.041},{"t":2.8e-4,"v":0.008},{"t":3.0e-4,"v":0.042},{"t":3.3e-4,"v":0.008},{"t":3.6e-4,"v":0.041},{"t":4.0e-4,"v":0.007},{"t":4.4e-4,"v":0.042},{"t":4.8e-4,"v":0.006},{"t":5.2e-4,"v":0.042},{"t":5.6e-4,"v":0.005},{"t":6.0e-4,"v":0.043},{"t":6.5e-4,"v":0.005},{"t":7.0e-4,"v":0.042},{"t":7.5e-4,"v":0.004},{"t":8.0e-4,"v":0.043},{"t":8.5e-4,"v":0.004},{"t":9.0e-4,"v":0.043},{"t":9.5e-4,"v":0.003},{"t":1.0e-3,"v":0.044},{"t":1.05e-3,"v":0.003},{"t":1.1e-3,"v":0.043},{"t":1.15e-3,"v":0.002},{"t":1.2e-3,"v":0.044},{"t":1.25e-3,"v":0.002},{"t":1.3e-3,"v":0.044},{"t":1.35e-3,"v":0.001},{"t":1.4e-3,"v":0.045},{"t":1.45e-3,"v":0.001},{"t":1.5e-3,"v":0.044},{"t":1.55e-3,"v":0.0},{"t":1.6e-3,"v":0.045},{"t":1.65e-3,"v":0.0},{"t":1.7e-3,"v":0.044},{"t":1.75e-3,"v":0.0},{"t":1.8e-3,"v":0.025},
    {"t":1.9e-3,"v":0.02},{"t":2.1e-3,"v":0.018},{"t":2.5e-3,"v":0.014},{"t":3.0e-3,"v":0.013},{"t":3.6e-3,"v":0.012},{"t":4.3e-3,"v":0.012},{"t":5.0e-3,"v":0.016},{"t":5.7e-3,"v":0.021},{"t":6.5e-3,"v":0.02},{"t":7.5e-3,"v":0.018},{"t":8.6e-3,"v":0.015},{"t":1.0e-2,"v":0.012},{"t":1.1e-2,"v":0.014},{"t":1.2e-2,"v":0.018},{"t":1.3e-2,"v":0.01},{"t":1.4e-2,"v":0.006},{"t":1.55e-2,"v":0.014},{"t":1.7e-2,"v":0.009},{"t":1.85e-2,"v":0.016},{"t":2.0e-2,"v":0.01},{"t":2.2e-2,"v":0.012},{"t":2.4e-2,"v":0.006},{"t":2.7e-2,"v":0.014},{"t":3.0e-2,"v":0.008},{"t":3.3e-2,"v":0.004},{"t":3.7e-2,"v":0.012},{"t":4.1e-2,"v":0.005},{"t":4.6e-2,"v":0.01},{"t":5.1e-2,"v":0.002},{"t":5.7e-2,"v":0.009},{"t":6.4e-2,"v":0.001},{"t":7.1e-2,"v":0.008},{"t":8.0e-2,"v":0.0},{"t":9.0e-2,"v":0.008},{"t":0.1,"v":-0.002},{"t":0.11,"v":0.008},{"t":0.125,"v":-0.003},{"t":0.14,"v":0.009},{"t":0.155,"v":-0.004},{"t":0.175,"v":0.01},{"t":0.195,"v":-0.005},{"t":0.22,"v":0.012},{"t":0.245,"v":-0.006},{"t":0.275,"v":0.012},{"t":0.31,"v":-0.007},{"t":0.345,"v":0.014},{"t":0.385,"v":-0.008},{"t":0.43,"v":0.015},{"t":0.48,"v":-0.01},{"t":0.54,"v":0.016},{"t":0.6,"v":-0.01},{"t":0.67,"v":0.018},{"t":0.75,"v":-0.008},{"t":0.84,"v":0.02},{"t":0.94,"v":-0.006},{"t":1.05,"v":0.02},{"t":1.17,"v":-0.005},{"t":1.3,"v":0.018},{"t":1.45,"v":-0.004},{"t":1.6,"v":0.02},{"t":1.8,"v":0.0},{"t":2.0,"v":0.015}
  ]
},
"vconcat": [
 {"hconcat": [
  {"width": 182, "height": 10, "data": {"values": [{}]}, "mark": {"type": "point", "opacity": 0}},
  {
    "width": 466, "height": 342,
    "title": {"text": "(a)", "dx": -103, "offset": 32},
    "layer": [
      {"data": {"name": "bandH"}, "mark": {"type": "rect", "color": "#ffc1c1"}, "encoding": {"x": {"field": "x1", "type": "quantitative", "scale": {"domain": [429, 1019], "nice": false, "zero": false}, "axis": null}, "x2": {"field": "x2"}}},
      {"data": {"name": "bandE"}, "mark": {"type": "rect", "color": "#c3c7ff"}, "encoding": {"x": {"field": "x1", "type": "quantitative", "scale": {"domain": [429, 1019], "nice": false, "zero": false}, "axis": null}, "x2": {"field": "x2"}}},
      {"data": {"values": [{}]}, "mark": {"type": "rule", "color": "black", "strokeWidth": 1.3}, "encoding": {"y": {"datum": 0, "type": "quantitative", "scale": {"domain": [-0.1, 1.5], "nice": false, "zero": false}, "axis": null}}},
      {"data": {"name": "a"}, "mark": {"type": "line", "strokeWidth": 2},
       "encoding": {
        "x": {"field": "wl", "type": "quantitative", "scale": {"domain": [429, 1019], "nice": false, "zero": false}, "axis": null},
        "y": {"field": "v", "type": "quantitative", "scale": {"domain": [-0.1, 1.5], "nice": false, "zero": false}, "axis": null},
        "color": {"field": "s", "type": "nominal", "scale": {"domain": ["inert atmosphere 10 µs", "h⁺ scavenger 10 µs", "e⁻ scavenger 10 µs"], "range": ["black", "#0050ff", "#ff0000"]}, "legend": null}
       }},
      {"data": {"name": "a"}, "mark": {"type": "point", "filled": true, "opacity": 1},
       "encoding": {
        "x": {"field": "wl", "type": "quantitative", "scale": {"domain": [429, 1019], "nice": false, "zero": false}, "axis": null},
        "y": {"field": "v", "type": "quantitative", "scale": {"domain": [-0.1, 1.5], "nice": false, "zero": false}, "axis": null},
        "shape": {"field": "s", "type": "nominal", "scale": {"domain": ["inert atmosphere 10 µs", "h⁺ scavenger 10 µs", "e⁻ scavenger 10 µs"], "range": ["square", "circle", "triangle-up"]}, "legend": null},
        "size": {"field": "s", "type": "nominal", "scale": {"domain": ["inert atmosphere 10 µs", "h⁺ scavenger 10 µs", "e⁻ scavenger 10 µs"], "range": [170, 190, 270]}, "legend": null},
        "color": {"field": "s", "type": "nominal", "scale": {"domain": ["inert atmosphere 10 µs", "h⁺ scavenger 10 µs", "e⁻ scavenger 10 µs"], "range": ["black", "#0050ff", "#ff0000"]}, "legend": null}
       }},
      {"data": {"name": "a"}, "mark": {"type": "point", "filled": true, "opacity": 0},
       "encoding": {
        "x": {"field": "wl", "type": "quantitative", "scale": {"domain": [429, 1019], "nice": false, "zero": false}, "axis": null},
        "y": {"field": "v", "type": "quantitative", "scale": {"domain": [-0.1, 1.5], "nice": false, "zero": false}, "axis": null},
        "shape": {"field": "s", "type": "nominal", "scale": {"domain": ["inert atmosphere 10 µs", "h⁺ scavenger 10 µs", "e⁻ scavenger 10 µs"], "range": ["M-2,-0.1H-0.5V0.1H-2ZM0.5,-0.1H2V0.1H0.5ZM-0.57,-0.57H0.57V0.57H-0.57Z", "M-2,-0.1H-0.6V0.1H-2ZM0.6,-0.1H2V0.1H0.6ZM0.67,0A0.67,0.67,0,1,1,-0.67,0A0.67,0.67,0,1,1,0.67,0Z", "M-2,-0.1H-0.6V0.1H-2ZM0.6,-0.1H2V0.1H0.6ZM0,-0.72L0.78,0.58H-0.78Z"]},
          "legend": {"title": null, "orient": "none", "legendX": 152, "legendY": 18, "labelFontSize": 24, "labelOffset": 16, "rowPadding": 9.5, "symbolSize": 441, "symbolOpacity": 1, "symbolStrokeWidth": 0, "padding": 0, "labelLimit": 400}},
        "color": {"field": "s", "type": "nominal", "scale": {"domain": ["inert atmosphere 10 µs", "h⁺ scavenger 10 µs", "e⁻ scavenger 10 µs"], "range": ["black", "#0050ff", "#ff0000"]},
          "legend": {"title": null, "orient": "none", "legendX": 152, "legendY": 18, "labelFontSize": 24, "labelOffset": 16, "rowPadding": 9.5, "symbolSize": 441, "symbolOpacity": 1, "symbolStrokeWidth": 0, "padding": 0, "labelLimit": 400}}
       }},
      {"data": {"name": "txtH"}, "mark": {"type": "text", "font": "Liberation Sans", "fontSize": 24, "fontWeight": "bold", "color": "#c40000", "align": "left", "baseline": "alphabetic"},
       "encoding": {"x": {"field": "x", "type": "quantitative", "scale": {"domain": [429, 1019], "nice": false, "zero": false}, "axis": null}, "y": {"field": "y", "type": "quantitative", "scale": {"domain": [-0.1, 1.5], "nice": false, "zero": false}, "axis": null}, "text": {"field": "label"}}},
      {"data": {"name": "txtE"}, "mark": {"type": "text", "font": "Liberation Sans", "fontSize": 24, "fontWeight": "bold", "color": "#1212b0", "align": "left", "baseline": "alphabetic"},
       "encoding": {"x": {"field": "x", "type": "quantitative", "scale": {"domain": [429, 1019], "nice": false, "zero": false}, "axis": null}, "y": {"field": "y", "type": "quantitative", "scale": {"domain": [-0.1, 1.5], "nice": false, "zero": false}, "axis": null}, "text": {"field": "label"}}},
      {"data": {"values": [{}]}, "mark": {"type": "rule", "color": "black", "strokeWidth": 1.5}, "encoding": {"y": {"datum": 1.5, "type": "quantitative", "scale": {"domain": [-0.1, 1.5], "nice": false, "zero": false}, "axis": null}}},
      {"data": {"values": [{}]}, "mark": {"type": "rule", "color": "black", "strokeWidth": 1.5}, "encoding": {"y": {"datum": -0.1, "type": "quantitative", "scale": {"domain": [-0.1, 1.5], "nice": false, "zero": false}, "axis": null}}},
      {"data": {"values": [{}]}, "mark": {"type": "rule", "color": "black", "strokeWidth": 1.5}, "encoding": {"x": {"datum": 429, "type": "quantitative", "scale": {"domain": [429, 1019], "nice": false, "zero": false}, "axis": null}}},
      {"data": {"values": [{}]}, "mark": {"type": "rule", "color": "black", "strokeWidth": 1.5}, "encoding": {"x": {"datum": 1019, "type": "quantitative", "scale": {"domain": [429, 1019], "nice": false, "zero": false}, "axis": null}}},
      {"data": {"name": "a"}, "mark": {"type": "point", "opacity": 0},
       "encoding": {
        "x": {"field": "wl", "type": "quantitative", "scale": {"domain": [429, 1019], "nice": false, "zero": false}, "axis": {"orient": "bottom", "values": [500, 600, 700, 800, 900, 1000], "format": "d", "title": "Wavelength (nm)", "tickSize": 6, "labelFontSize": 23, "titleFontSize": 24, "labelPadding": 3, "titlePadding": 18}},
        "y": {"field": "v", "type": "quantitative", "scale": {"domain": [-0.1, 1.5], "nice": false, "zero": false}, "axis": {"orient": "left", "values": [0, 0.2, 0.4, 0.6, 0.8, 1.0, 1.2, 1.4], "format": ".1f", "title": "% A x100", "tickSize": 6, "labelFontSize": 23, "titleFontSize": 24, "labelPadding": 2, "titlePadding": 16}}}},
      {"data": {"name": "a"}, "mark": {"type": "point", "opacity": 0},
       "encoding": {
        "x": {"field": "wl", "type": "quantitative", "scale": {"domain": [429, 1019], "nice": false, "zero": false}, "axis": {"orient": "bottom", "values": [450, 550, 650, 750, 850, 950], "labels": false, "title": null, "tickSize": 3.5}},
        "y": {"field": "v", "type": "quantitative", "scale": {"domain": [-0.1, 1.5], "nice": false, "zero": false}, "axis": {"orient": "left", "values": [0.1, 0.3, 0.5, 0.7, 0.9, 1.1, 1.3], "labels": false, "title": null, "tickSize": 3.5}}}},
      {"data": {"name": "a"}, "mark": {"type": "point", "opacity": 0},
       "encoding": {
        "x": {"field": "wl", "type": "quantitative", "scale": {"domain": [429, 1019], "nice": false, "zero": false}, "axis": {"orient": "top", "values": [500, 600, 700, 800, 900, 1000], "labels": false, "title": null, "tickSize": -6}},
        "y": {"field": "v", "type": "quantitative", "scale": {"domain": [-0.1, 1.5], "nice": false, "zero": false}, "axis": {"orient": "right", "values": [0, 0.2, 0.4, 0.6, 0.8, 1.0, 1.2, 1.4], "labels": false, "title": null, "tickSize": -6}}}},
      {"data": {"name": "a"}, "mark": {"type": "point", "opacity": 0},
       "encoding": {
        "x": {"field": "wl", "type": "quantitative", "scale": {"domain": [429, 1019], "nice": false, "zero": false}, "axis": {"orient": "top", "values": [450, 550, 650, 750, 850, 950], "labels": false, "title": null, "tickSize": -3.5}},
        "y": {"field": "v", "type": "quantitative", "scale": {"domain": [-0.1, 1.5], "nice": false, "zero": false}, "axis": {"orient": "right", "values": [0.1, 0.3, 0.5, 0.7, 0.9, 1.1, 1.3], "labels": false, "title": null, "tickSize": -3.5}}}}
    ],
    "resolve": {"scale": {"shape": "independent", "size": "independent"}, "legend": {"color": "independent", "shape": "independent", "size": "independent"}, "axis": {"x": "independent", "y": "independent"}}
  }],
  "spacing": 100, "bounds": "flush",
  "resolve": {"scale": {"x": "independent", "y": "independent", "color": "independent", "shape": "independent", "size": "independent"}, "axis": {"x": "independent", "y": "independent"}, "legend": {"color": "independent", "shape": "independent", "size": "independent"}}
 },
 {"hconcat": [
  {
    "width": 460, "height": 336,
    "title": {"text": "(b)", "dx": -97, "offset": 28},
    "layer": [
      {"data": {"values": [{}]}, "mark": {"type": "rule", "color": "black", "strokeWidth": 1.3}, "encoding": {"y": {"datum": 0, "type": "quantitative", "scale": {"domain": [-0.1, 1.5], "nice": false, "zero": false}, "axis": null}}},
      {"data": {"name": "bKb"}, "mark": {"type": "area", "color": "black", "opacity": 1, "clip": true}, "encoding": {"x": {"field": "t", "type": "quantitative", "scale": {"type": "log", "domain": [2e-6, 2], "nice": false}, "axis": null}, "y": {"field": "hi", "type": "quantitative", "scale": {"domain": [-0.1, 1.5], "nice": false, "zero": false}, "axis": null}, "y2": {"field": "lo"}}},
      {"data": {"name": "bK"}, "mark": {"type": "line", "strokeWidth": 1.8, "strokeJoin": "round", "clip": true},
       "encoding": {"x": {"field": "t", "type": "quantitative", "scale": {"type": "log", "domain": [2e-6, 2], "nice": false}, "axis": null}, "y": {"field": "v", "type": "quantitative", "scale": {"domain": [-0.1, 1.5], "nice": false, "zero": false}, "axis": null},
        "color": {"datum": "550nm inert atmosphere", "type": "nominal", "scale": {"domain": ["550nm inert atmosphere", "550nm e⁻ scavenger", "550nm h⁺ scavenger"], "range": ["black", "#ff0000", "#0050ff"]}, "legend": {"title": null, "orient": "none", "legendX": 202, "legendY": 5, "symbolType": "stroke", "symbolSize": 484, "symbolStrokeWidth": 2.5, "labelFontSize": 20, "labelOffset": 6, "rowPadding": 3.5, "padding": 0, "labelLimit": 400}}}},
      {"data": {"name": "bRb"}, "mark": {"type": "area", "color": "#ff0000", "opacity": 1, "clip": true}, "encoding": {"x": {"field": "t", "type": "quantitative", "scale": {"type": "log", "domain": [2e-6, 2], "nice": false}, "axis": null}, "y": {"field": "hi", "type": "quantitative", "scale": {"domain": [-0.1, 1.5], "nice": false, "zero": false}, "axis": null}, "y2": {"field": "lo"}}},
      {"data": {"name": "bRt"}, "mark": {"type": "area", "color": "#ff0000", "opacity": 1, "clip": true}, "encoding": {"x": {"field": "t", "type": "quantitative", "scale": {"type": "log", "domain": [2e-6, 2], "nice": false}, "axis": null}, "y": {"field": "hi", "type": "quantitative", "scale": {"domain": [-0.1, 1.5], "nice": false, "zero": false}, "axis": null}, "y2": {"field": "lo"}}},
      {"data": {"name": "bR"}, "mark": {"type": "line", "strokeWidth": 1.8, "strokeJoin": "round", "clip": true},
       "encoding": {"x": {"field": "t", "type": "quantitative", "scale": {"type": "log", "domain": [2e-6, 2], "nice": false}, "axis": null}, "y": {"field": "v", "type": "quantitative", "scale": {"domain": [-0.1, 1.5], "nice": false, "zero": false}, "axis": null},
        "color": {"datum": "550nm e⁻ scavenger", "type": "nominal", "scale": {"domain": ["550nm inert atmosphere", "550nm e⁻ scavenger", "550nm h⁺ scavenger"], "range": ["black", "#ff0000", "#0050ff"]}, "legend": {"title": null, "orient": "none", "legendX": 202, "legendY": 5, "symbolType": "stroke", "symbolSize": 484, "symbolStrokeWidth": 2.5, "labelFontSize": 20, "labelOffset": 6, "rowPadding": 3.5, "padding": 0, "labelLimit": 400}}}},
      {"data": {"name": "bBb"}, "mark": {"type": "area", "color": "#0050ff", "opacity": 1, "clip": true}, "encoding": {"x": {"field": "t", "type": "quantitative", "scale": {"type": "log", "domain": [2e-6, 2], "nice": false}, "axis": null}, "y": {"field": "hi", "type": "quantitative", "scale": {"domain": [-0.1, 1.5], "nice": false, "zero": false}, "axis": null}, "y2": {"field": "lo"}}},
      {"data": {"name": "bBt"}, "mark": {"type": "area", "color": "#0050ff", "opacity": 1, "clip": true}, "encoding": {"x": {"field": "t", "type": "quantitative", "scale": {"type": "log", "domain": [2e-6, 2], "nice": false}, "axis": null}, "y": {"field": "hi", "type": "quantitative", "scale": {"domain": [-0.1, 1.5], "nice": false, "zero": false}, "axis": null}, "y2": {"field": "lo"}}},
      {"data": {"name": "bB"}, "mark": {"type": "line", "strokeWidth": 1.8, "strokeJoin": "round", "clip": true},
       "encoding": {"x": {"field": "t", "type": "quantitative", "scale": {"type": "log", "domain": [2e-6, 2], "nice": false}, "axis": null}, "y": {"field": "v", "type": "quantitative", "scale": {"domain": [-0.1, 1.5], "nice": false, "zero": false}, "axis": null},
        "color": {"datum": "550nm h⁺ scavenger", "type": "nominal", "scale": {"domain": ["550nm inert atmosphere", "550nm e⁻ scavenger", "550nm h⁺ scavenger"], "range": ["black", "#ff0000", "#0050ff"]}, "legend": {"title": null, "orient": "none", "legendX": 202, "legendY": 5, "symbolType": "stroke", "symbolSize": 484, "symbolStrokeWidth": 2.5, "labelFontSize": 20, "labelOffset": 6, "rowPadding": 3.5, "padding": 0, "labelLimit": 400}}}},
      {"data": {"values": [{}]}, "mark": {"type": "rule", "color": "black", "strokeWidth": 1.5}, "encoding": {"y": {"datum": 1.5, "type": "quantitative", "scale": {"domain": [-0.1, 1.5], "nice": false, "zero": false}, "axis": null}}},
      {"data": {"values": [{}]}, "mark": {"type": "rule", "color": "black", "strokeWidth": 1.5}, "encoding": {"y": {"datum": -0.1, "type": "quantitative", "scale": {"domain": [-0.1, 1.5], "nice": false, "zero": false}, "axis": null}}},
      {"data": {"values": [{}]}, "mark": {"type": "rule", "color": "black", "strokeWidth": 1.5}, "encoding": {"x": {"datum": 2e-6, "type": "quantitative", "scale": {"type": "log", "domain": [2e-6, 2], "nice": false}, "axis": null}}},
      {"data": {"values": [{}]}, "mark": {"type": "rule", "color": "black", "strokeWidth": 1.5}, "encoding": {"x": {"datum": 2, "type": "quantitative", "scale": {"type": "log", "domain": [2e-6, 2], "nice": false}, "axis": null}}},
      {"data": {"name": "bK"}, "mark": {"type": "point", "opacity": 0},
       "encoding": {
        "x": {"field": "t", "type": "quantitative", "scale": {"type": "log", "domain": [2e-6, 2], "nice": false}, "axis": {"orient": "bottom", "values": [1e-5, 1e-4, 1e-3, 1e-2, 0.1, 1], "labelExpr": "datum.value < 0.0009 ? '1E' + round(log(datum.value)/LN10) : format(datum.value, '~g')", "title": "Time (s)", "tickSize": 6, "labelFontSize": 22, "titleFontSize": 23, "labelPadding": 3, "titlePadding": 8}},
        "y": {"field": "v", "type": "quantitative", "scale": {"domain": [-0.1, 1.5], "nice": false, "zero": false}, "axis": {"orient": "left", "values": [0, 0.2, 0.4, 0.6, 0.8, 1.0, 1.2, 1.4], "format": ".1f", "title": "% A (x 100)", "tickSize": 6, "labelFontSize": 22, "titleFontSize": 23, "labelPadding": 7, "titlePadding": 18}}}},
      {"data": {"name": "bK"}, "mark": {"type": "point", "opacity": 0},
       "encoding": {
        "x": {"field": "t", "type": "quantitative", "scale": {"type": "log", "domain": [2e-6, 2], "nice": false}, "axis": {"orient": "bottom", "values": [3e-6,4e-6,5e-6,6e-6,7e-6,8e-6,9e-6,2e-5,3e-5,4e-5,5e-5,6e-5,7e-5,8e-5,9e-5,2e-4,3e-4,4e-4,5e-4,6e-4,7e-4,8e-4,9e-4,0.002,0.003,0.004,0.005,0.006,0.007,0.008,0.009,0.02,0.03,0.04,0.05,0.06,0.07,0.08,0.09,0.2,0.3,0.4,0.5,0.6,0.7,0.8,0.9], "labels": false, "title": null, "tickSize": 3.5}},
        "y": {"field": "v", "type": "quantitative", "scale": {"domain": [-0.1, 1.5], "nice": false, "zero": false}, "axis": {"orient": "left", "values": [0.1, 0.3, 0.5, 0.7, 0.9, 1.1, 1.3], "labels": false, "title": null, "tickSize": 3.5}}}},
      {"data": {"name": "bK"}, "mark": {"type": "point", "opacity": 0},
       "encoding": {
        "x": {"field": "t", "type": "quantitative", "scale": {"type": "log", "domain": [2e-6, 2], "nice": false}, "axis": {"orient": "top", "values": [1e-5, 1e-4, 1e-3, 1e-2, 0.1, 1], "labels": false, "title": null, "tickSize": -6}},
        "y": {"field": "v", "type": "quantitative", "scale": {"domain": [-0.1, 1.5], "nice": false, "zero": false}, "axis": {"orient": "right", "values": [0, 0.2, 0.4, 0.6, 0.8, 1.0, 1.2, 1.4], "labels": false, "title": null, "tickSize": -6}}}},
      {"data": {"name": "bK"}, "mark": {"type": "point", "opacity": 0},
       "encoding": {
        "x": {"field": "t", "type": "quantitative", "scale": {"type": "log", "domain": [2e-6, 2], "nice": false}, "axis": {"orient": "top", "values": [3e-6,4e-6,5e-6,6e-6,7e-6,8e-6,9e-6,2e-5,3e-5,4e-5,5e-5,6e-5,7e-5,8e-5,9e-5,2e-4,3e-4,4e-4,5e-4,6e-4,7e-4,8e-4,9e-4,0.002,0.003,0.004,0.005,0.006,0.007,0.008,0.009,0.02,0.03,0.04,0.05,0.06,0.07,0.08,0.09,0.2,0.3,0.4,0.5,0.6,0.7,0.8,0.9], "labels": false, "title": null, "tickSize": -3.5}},
        "y": {"field": "v", "type": "quantitative", "scale": {"domain": [-0.1, 1.5], "nice": false, "zero": false}, "axis": {"orient": "right", "values": [0.1, 0.3, 0.5, 0.7, 0.9, 1.1, 1.3], "labels": false, "title": null, "tickSize": -3.5}}}}
    ],
    "resolve": {"axis": {"x": "independent", "y": "independent"}}
  },
  {
    "width": 454, "height": 341,
    "title": {"text": "(c)", "dx": -108, "offset": 25},
    "layer": [
      {"data": {"values": [{}]}, "mark": {"type": "rule", "color": "black", "strokeWidth": 1.3}, "encoding": {"y": {"datum": 0, "type": "quantitative", "scale": {"domain": [-0.05, 0.6], "nice": false, "zero": false}, "axis": null}}},
      {"data": {"name": "cBb"}, "mark": {"type": "area", "color": "#0050ff", "opacity": 1, "clip": true}, "encoding": {"x": {"field": "t", "type": "quantitative", "scale": {"type": "log", "domain": [3e-6, 2], "nice": false}, "axis": null}, "y": {"field": "hi", "type": "quantitative", "scale": {"domain": [-0.05, 0.6], "nice": false, "zero": false}, "axis": null}, "y2": {"field": "lo"}}},
      {"data": {"name": "cBt"}, "mark": {"type": "area", "color": "#0050ff", "opacity": 1, "clip": true}, "encoding": {"x": {"field": "t", "type": "quantitative", "scale": {"type": "log", "domain": [3e-6, 2], "nice": false}, "axis": null}, "y": {"field": "hi", "type": "quantitative", "scale": {"domain": [-0.05, 0.6], "nice": false, "zero": false}, "axis": null}, "y2": {"field": "lo"}}},
      {"data": {"name": "cB"}, "mark": {"type": "line", "strokeWidth": 1.8, "strokeJoin": "round", "clip": true},
       "encoding": {"x": {"field": "t", "type": "quantitative", "scale": {"type": "log", "domain": [3e-6, 2], "nice": false}, "axis": null}, "y": {"field": "v", "type": "quantitative", "scale": {"domain": [-0.05, 0.6], "nice": false, "zero": false}, "axis": null},
        "color": {"datum": "1000nm h⁺ scavenger", "type": "nominal", "scale": {"domain": ["1000nm inert atmosphere", "1000nm e⁻ scavenger", "1000nm h⁺ scavenger"], "range": ["black", "#ff0000", "#0050ff"]}, "legend": {"title": null, "orient": "none", "legendX": 189, "legendY": 19, "symbolType": "stroke", "symbolSize": 529, "symbolStrokeWidth": 2.5, "labelFontSize": 20, "labelOffset": 6, "rowPadding": 4.5, "padding": 0, "labelLimit": 400}}}},
      {"data": {"name": "cRb"}, "mark": {"type": "area", "color": "#ff0000", "opacity": 1, "clip": true}, "encoding": {"x": {"field": "t", "type": "quantitative", "scale": {"type": "log", "domain": [3e-6, 2], "nice": false}, "axis": null}, "y": {"field": "hi", "type": "quantitative", "scale": {"domain": [-0.05, 0.6], "nice": false, "zero": false}, "axis": null}, "y2": {"field": "lo"}}},
      {"data": {"name": "cRt"}, "mark": {"type": "area", "color": "#ff0000", "opacity": 1, "clip": true}, "encoding": {"x": {"field": "t", "type": "quantitative", "scale": {"type": "log", "domain": [3e-6, 2], "nice": false}, "axis": null}, "y": {"field": "hi", "type": "quantitative", "scale": {"domain": [-0.05, 0.6], "nice": false, "zero": false}, "axis": null}, "y2": {"field": "lo"}}},
      {"data": {"name": "cR"}, "mark": {"type": "line", "strokeWidth": 1.8, "strokeJoin": "round", "clip": true},
       "encoding": {"x": {"field": "t", "type": "quantitative", "scale": {"type": "log", "domain": [3e-6, 2], "nice": false}, "axis": null}, "y": {"field": "v", "type": "quantitative", "scale": {"domain": [-0.05, 0.6], "nice": false, "zero": false}, "axis": null},
        "color": {"datum": "1000nm e⁻ scavenger", "type": "nominal", "scale": {"domain": ["1000nm inert atmosphere", "1000nm e⁻ scavenger", "1000nm h⁺ scavenger"], "range": ["black", "#ff0000", "#0050ff"]}, "legend": {"title": null, "orient": "none", "legendX": 189, "legendY": 19, "symbolType": "stroke", "symbolSize": 529, "symbolStrokeWidth": 2.5, "labelFontSize": 20, "labelOffset": 6, "rowPadding": 4.5, "padding": 0, "labelLimit": 400}}}},
      {"data": {"name": "cKb"}, "mark": {"type": "area", "color": "black", "opacity": 1, "clip": true}, "encoding": {"x": {"field": "t", "type": "quantitative", "scale": {"type": "log", "domain": [3e-6, 2], "nice": false}, "axis": null}, "y": {"field": "hi", "type": "quantitative", "scale": {"domain": [-0.05, 0.6], "nice": false, "zero": false}, "axis": null}, "y2": {"field": "lo"}}},
      {"data": {"name": "cKt"}, "mark": {"type": "area", "color": "black", "opacity": 1, "clip": true}, "encoding": {"x": {"field": "t", "type": "quantitative", "scale": {"type": "log", "domain": [3e-6, 2], "nice": false}, "axis": null}, "y": {"field": "hi", "type": "quantitative", "scale": {"domain": [-0.05, 0.6], "nice": false, "zero": false}, "axis": null}, "y2": {"field": "lo"}}},
      {"data": {"name": "cK"}, "mark": {"type": "line", "strokeWidth": 1.8, "strokeJoin": "round", "clip": true},
       "encoding": {"x": {"field": "t", "type": "quantitative", "scale": {"type": "log", "domain": [3e-6, 2], "nice": false}, "axis": null}, "y": {"field": "v", "type": "quantitative", "scale": {"domain": [-0.05, 0.6], "nice": false, "zero": false}, "axis": null},
        "color": {"datum": "1000nm inert atmosphere", "type": "nominal", "scale": {"domain": ["1000nm inert atmosphere", "1000nm e⁻ scavenger", "1000nm h⁺ scavenger"], "range": ["black", "#ff0000", "#0050ff"]}, "legend": {"title": null, "orient": "none", "legendX": 189, "legendY": 19, "symbolType": "stroke", "symbolSize": 529, "symbolStrokeWidth": 2.5, "labelFontSize": 20, "labelOffset": 6, "rowPadding": 4.5, "padding": 0, "labelLimit": 400}}}},
      {"data": {"values": [{}]}, "mark": {"type": "rule", "color": "black", "strokeWidth": 1.5}, "encoding": {"y": {"datum": 0.6, "type": "quantitative", "scale": {"domain": [-0.05, 0.6], "nice": false, "zero": false}, "axis": null}}},
      {"data": {"values": [{}]}, "mark": {"type": "rule", "color": "black", "strokeWidth": 1.5}, "encoding": {"y": {"datum": -0.05, "type": "quantitative", "scale": {"domain": [-0.05, 0.6], "nice": false, "zero": false}, "axis": null}}},
      {"data": {"values": [{}]}, "mark": {"type": "rule", "color": "black", "strokeWidth": 1.5}, "encoding": {"x": {"datum": 3e-6, "type": "quantitative", "scale": {"type": "log", "domain": [3e-6, 2], "nice": false}, "axis": null}}},
      {"data": {"values": [{}]}, "mark": {"type": "rule", "color": "black", "strokeWidth": 1.5}, "encoding": {"x": {"datum": 2, "type": "quantitative", "scale": {"type": "log", "domain": [3e-6, 2], "nice": false}, "axis": null}}},
      {"data": {"name": "cK"}, "mark": {"type": "point", "opacity": 0},
       "encoding": {
        "x": {"field": "t", "type": "quantitative", "scale": {"type": "log", "domain": [3e-6, 2], "nice": false}, "axis": {"orient": "bottom", "values": [1e-5, 1e-4, 1e-3, 1e-2, 0.1, 1], "labelExpr": "datum.value < 0.0009 ? '1E' + round(log(datum.value)/LN10) : format(datum.value, '~g')", "title": "Time (s)", "tickSize": 6, "labelFontSize": 22, "titleFontSize": 23, "labelPadding": 12, "titlePadding": 5}},
        "y": {"field": "v", "type": "quantitative", "scale": {"domain": [-0.05, 0.6], "nice": false, "zero": false}, "axis": {"orient": "left", "values": [0, 0.2, 0.4, 0.6], "format": ".1f", "title": "% A (x 100)", "tickSize": 6, "labelFontSize": 22, "titleFontSize": 23, "labelPadding": 6, "titlePadding": 19}}}},
      {"data": {"name": "cK"}, "mark": {"type": "point", "opacity": 0},
       "encoding": {
        "x": {"field": "t", "type": "quantitative", "scale": {"type": "log", "domain": [3e-6, 2], "nice": false}, "axis": {"orient": "bottom", "values": [4e-6,5e-6,6e-6,7e-6,8e-6,9e-6,2e-5,3e-5,4e-5,5e-5,6e-5,7e-5,8e-5,9e-5,2e-4,3e-4,4e-4,5e-4,6e-4,7e-4,8e-4,9e-4,0.002,0.003,0.004,0.005,0.006,0.007,0.008,0.009,0.02,0.03,0.04,0.05,0.06,0.07,0.08,0.09,0.2,0.3,0.4,0.5,0.6,0.7,0.8,0.9], "labels": false, "title": null, "tickSize": 3.5}},
        "y": {"field": "v", "type": "quantitative", "scale": {"domain": [-0.05, 0.6], "nice": false, "zero": false}, "axis": {"orient": "left", "values": [0.1, 0.3, 0.5], "labels": false, "title": null, "tickSize": 3.5}}}},
      {"data": {"name": "cK"}, "mark": {"type": "point", "opacity": 0},
       "encoding": {
        "x": {"field": "t", "type": "quantitative", "scale": {"type": "log", "domain": [3e-6, 2], "nice": false}, "axis": {"orient": "top", "values": [1e-5, 1e-4, 1e-3, 1e-2, 0.1, 1], "labels": false, "title": null, "tickSize": -6}},
        "y": {"field": "v", "type": "quantitative", "scale": {"domain": [-0.05, 0.6], "nice": false, "zero": false}, "axis": {"orient": "right", "values": [0, 0.2, 0.4, 0.6], "labels": false, "title": null, "tickSize": -6}}}},
      {"data": {"name": "cK"}, "mark": {"type": "point", "opacity": 0},
       "encoding": {
        "x": {"field": "t", "type": "quantitative", "scale": {"type": "log", "domain": [3e-6, 2], "nice": false}, "axis": {"orient": "top", "values": [4e-6,5e-6,6e-6,7e-6,8e-6,9e-6,2e-5,3e-5,4e-5,5e-5,6e-5,7e-5,8e-5,9e-5,2e-4,3e-4,4e-4,5e-4,6e-4,7e-4,8e-4,9e-4,0.002,0.003,0.004,0.005,0.006,0.007,0.008,0.009,0.02,0.03,0.04,0.05,0.06,0.07,0.08,0.09,0.2,0.3,0.4,0.5,0.6,0.7,0.8,0.9], "labels": false, "title": null, "tickSize": -3.5}},
        "y": {"field": "v", "type": "quantitative", "scale": {"domain": [-0.05, 0.6], "nice": false, "zero": false}, "axis": {"orient": "right", "values": [0.1, 0.3, 0.5], "labels": false, "title": null, "tickSize": -3.5}}}}
    ],
    "resolve": {"axis": {"x": "independent", "y": "independent"}}
  }],
  "spacing": 136, "bounds": "flush",
  "resolve": {"scale": {"x": "independent", "y": "independent", "color": "independent"}, "axis": {"x": "independent", "y": "independent"}, "legend": {"color": "independent"}}
 }
],
"spacing": 17,
"align": "none",
"bounds": "full",
"resolve": {"scale": {"x": "independent", "y": "independent", "color": "independent", "shape": "independent", "size": "independent"}, "axis": {"x": "independent", "y": "independent"}, "legend": {"color": "independent", "shape": "independent", "size": "independent"}}
}
